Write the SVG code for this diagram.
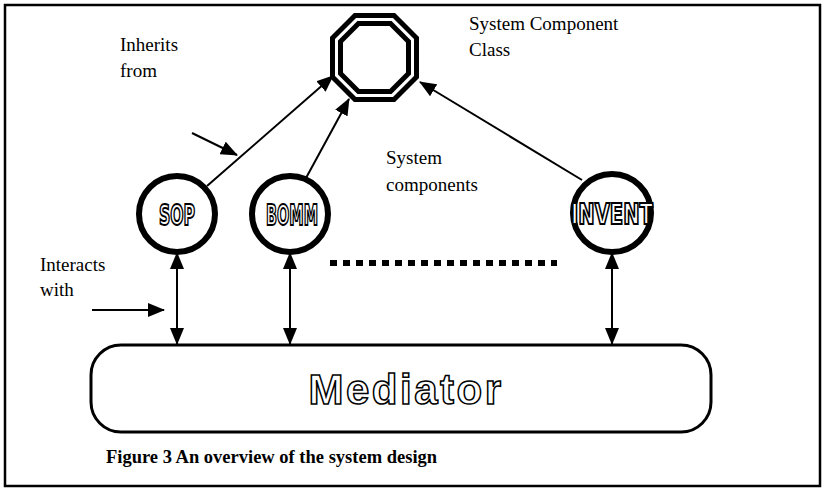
<svg xmlns="http://www.w3.org/2000/svg" width="824" height="489" viewBox="0 0 824 489">
<style>
.lbl{font-family:"Liberation Serif","Times New Roman",serif;font-size:19px;fill:#000}
.cap{font-family:"Liberation Serif","Times New Roman",serif;font-size:18.5px;font-weight:bold;fill:#000}
.comp{fill:#fff;stroke:#000;stroke-width:6}
.ctext{font-family:"DejaVu Sans Condensed","Liberation Sans Narrow","Liberation Sans",sans-serif;font-weight:bold;font-size:28px;fill:#fff;stroke:#000;stroke-width:2;text-anchor:middle}
.conn{stroke:#000;stroke-width:2;fill:none}
.oct{fill:none;stroke:#000;stroke-width:5;stroke-linejoin:miter}
</style>
<defs>
<marker id="ah" markerWidth="17" markerHeight="14" refX="16" refY="7" orient="auto" markerUnits="userSpaceOnUse">
<path d="M0,0 L17,7 L0,14 Z" fill="#000"/>
</marker>
<marker id="as" markerWidth="17" markerHeight="14" refX="1" refY="7" orient="auto" markerUnits="userSpaceOnUse">
<path d="M17,0 L0,7 L17,14 Z" fill="#000"/>
</marker>
</defs>
<rect width="824" height="489" fill="#fff"/>
<rect x="5" y="5" width="815" height="481" fill="none" stroke="#000" stroke-width="2.5"/>

<g id="class">
<path class="oct" d="M355,15.5 L394,15.5 L416.5,38 L416.5,77 L394,99.5 L355,99.5 L332.5,77 L332.5,38 Z"/>
<path class="oct" d="M358.5,23.5 L390.5,23.5 L408.5,41.5 L408.5,73.5 L390.5,91.5 L358.5,91.5 L340.5,73.5 L340.5,41.5 Z"/>
</g>
<g id="label-class">
<text class="lbl" x="469" y="30">System Component</text>
<text class="lbl" x="469" y="56">Class</text>
</g>
<g id="label-inherits">
<text class="lbl" x="120" y="51">Inherits</text>
<text class="lbl" x="120" y="77">from</text>
</g>
<g id="label-components">
<text class="lbl" x="386" y="164">System</text>
<text class="lbl" x="386" y="191">components</text>
</g>
<g id="label-interacts">
<text class="lbl" x="40" y="271">Interacts</text>
<text class="lbl" x="40" y="296">with</text>
</g>

<g id="sop">
<circle class="comp" cx="177" cy="214" r="38"/>
<text class="ctext" x="177" y="225" textLength="36" lengthAdjust="spacingAndGlyphs">SOP</text>
</g>
<g id="bomm">
<circle class="comp" cx="290" cy="214" r="38"/>
<text class="ctext" x="292" y="225" textLength="52" lengthAdjust="spacingAndGlyphs">BOMM</text>
</g>
<g id="invent">
<circle class="comp" cx="612" cy="213" r="39"/>
<text class="ctext" x="612" y="224" textLength="82" lengthAdjust="spacingAndGlyphs">INVENT</text>
</g>

<g id="mediator">
<rect x="91" y="345" width="620" height="87" rx="30" ry="30" fill="#fff" stroke="#000" stroke-width="3"/>
<text x="406" y="404" text-anchor="middle" font-family="Liberation Sans,Arial,sans-serif" font-weight="bold" font-size="42" letter-spacing="2.5" fill="#fff" stroke="#000" stroke-width="1.5">Mediator</text>
</g>

<g id="caption">
<text class="cap" x="106" y="463">Figure 3 An overview of the system design</text>
</g>

<g id="connectors">
<line class="conn" x1="207" y1="186" x2="333" y2="76" marker-end="url(#ah)"/>
<line class="conn" x1="306" y1="178" x2="349" y2="99" marker-end="url(#ah)"/>
<line class="conn" x1="582" y1="180" x2="420" y2="82" marker-end="url(#ah)"/>
<line class="conn" x1="192" y1="133" x2="237" y2="155" marker-end="url(#ah)"/>
<line class="conn" x1="92" y1="310" x2="164" y2="310" marker-end="url(#ah)"/>
<line class="conn" x1="177" y1="253" x2="177" y2="344" marker-start="url(#as)" marker-end="url(#ah)"/>
<line class="conn" x1="290" y1="253" x2="290" y2="344" marker-start="url(#as)" marker-end="url(#ah)"/>
<line class="conn" x1="612" y1="253" x2="612" y2="344" marker-start="url(#as)" marker-end="url(#ah)"/>
<line x1="330" y1="263" x2="557" y2="263" stroke="#000" stroke-width="6" stroke-dasharray="7,6"/>
</g>
</svg>
